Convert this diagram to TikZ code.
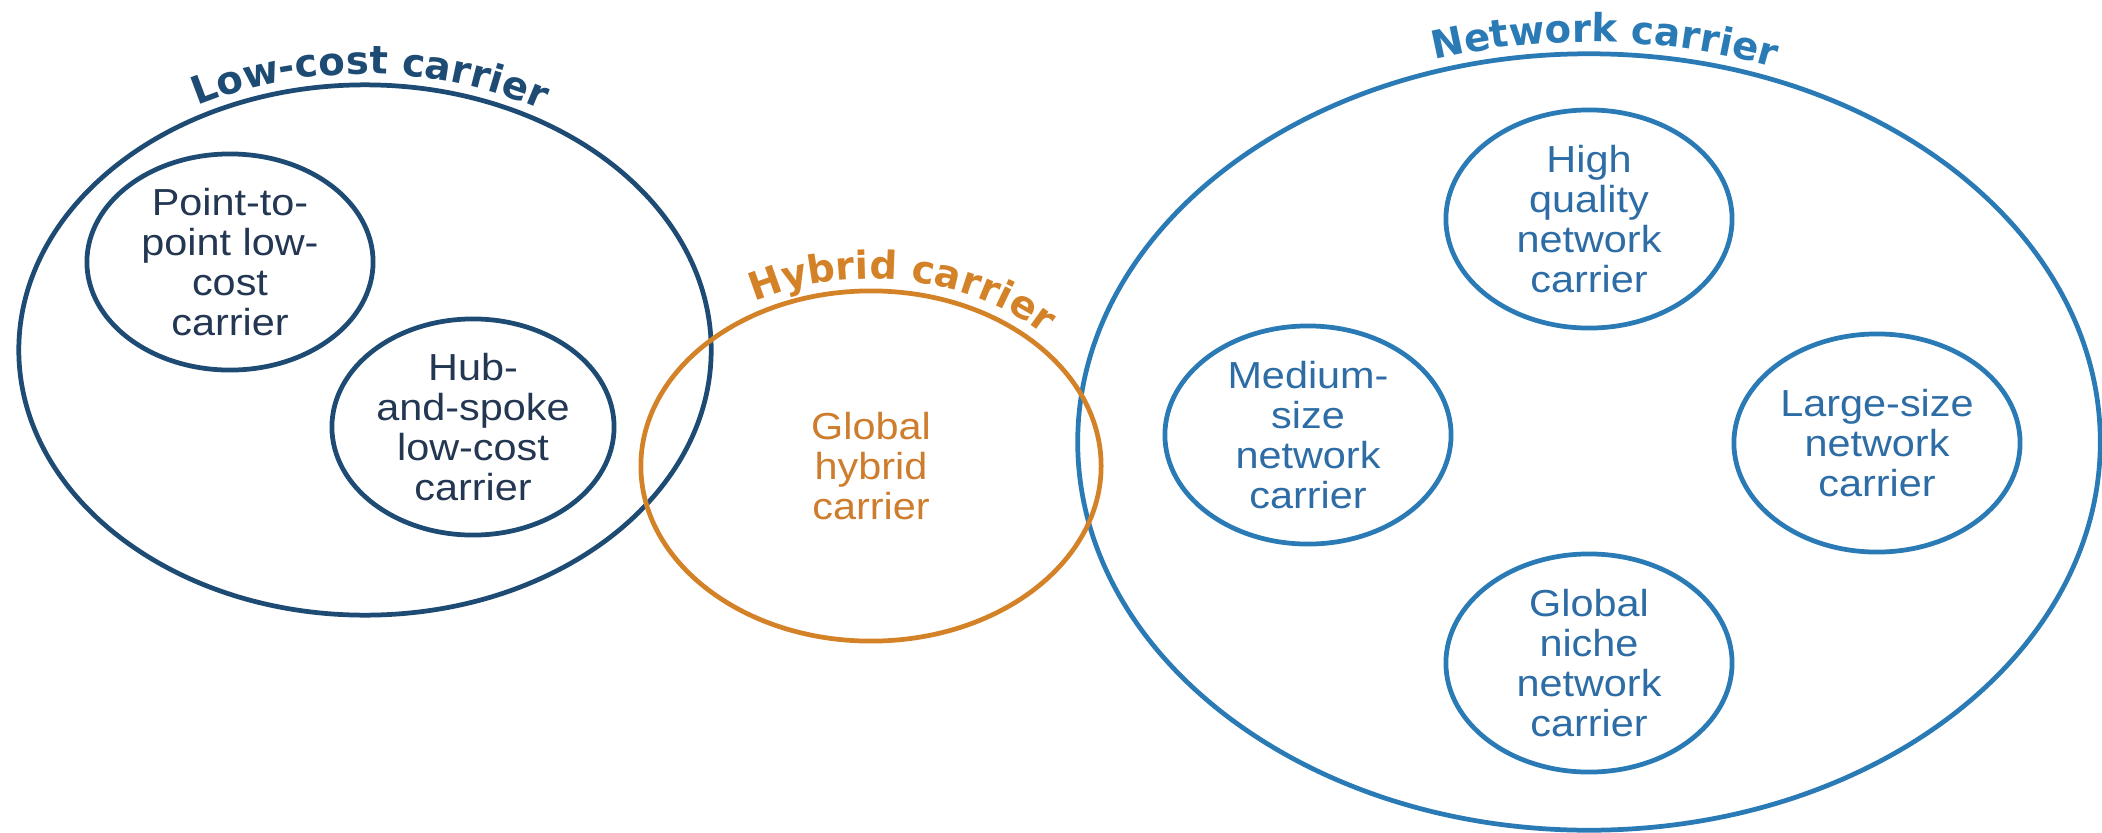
\documentclass[tikz,border=0pt]{standalone}
\usepackage{fontspec}
\setmainfont{Liberation Sans}
\newfontfamily\bodyfont{Liberation Sans}[FakeStretch=1.1]
\newfontfamily\titlefont{DejaVu Sans Bold}
\usetikzlibrary{shapes.geometric,decorations.text}
\definecolor{lcc}{RGB}{30,75,115}
\definecolor{lcctext}{RGB}{35,55,82}
\definecolor{net}{RGB}{42,122,182}
\definecolor{nettext}{RGB}{45,108,165}
\definecolor{hyb}{RGB}{212,130,40}
\definecolor{hybtext}{RGB}{205,125,45}
\tikzset{
  oval/.style={ellipse, draw, line width=1.35pt, inner sep=0pt, align=center,
    font={\bodyfont\fontsize{10.7pt}{11.4pt}\selectfont}},
  big/.style={ellipse, draw, line width=1.35pt, inner sep=0pt},
}
\begin{document}
\begin{tikzpicture}[x=0.01cm,y=0.01cm]
\useasboundingbox (0,0) rectangle (2102,832);
% low-cost carrier
\node[big, draw=lcc, minimum width=6.92cm, minimum height=5.30cm] (lowcost) at (365,482) {};
\node[oval, draw=lcc, text=lcctext, minimum width=2.86cm, minimum height=2.16cm] (p2p) at (230,570)
  {Point-to-\\point low-\\cost\\carrier};
\node[oval, draw=lcc, text=lcctext, minimum width=2.82cm, minimum height=2.16cm] (hub) at (473,405)
  {Hub-\\and-spoke\\low-cost\\carrier};
\path[decorate, decoration={text along path, text align=center,
  text={|\titlefont\fontsize{11pt}{13pt}\selectfont\color{lcc}|Low-cost carrier}}]
  (365,482) ++(150:357 and 276) arc[start angle=150, end angle=28, x radius=357, y radius=276];
% network carrier
\node[big, draw=net, minimum width=10.22cm, minimum height=7.76cm] (network) at (1589,390) {};
\node[oval, draw=net, text=nettext, minimum width=2.86cm, minimum height=2.18cm] (high) at (1589,613)
  {High\\quality\\network\\carrier};
\node[oval, draw=net, text=nettext, minimum width=2.86cm, minimum height=2.18cm] (medium) at (1308,397)
  {Medium-\\size\\network\\carrier};
\node[oval, draw=net, text=nettext, minimum width=2.86cm, minimum height=2.18cm] (large) at (1877,389)
  {Large-size\\network\\carrier};
\node[oval, draw=net, text=nettext, minimum width=2.86cm, minimum height=2.18cm] (niche) at (1589,169)
  {Global\\niche\\network\\carrier};
\path[decorate, decoration={text along path, text align=center,
  text={|\titlefont\fontsize{11pt}{13pt}\selectfont\color{net}|Network carrier}}]
  (1589,390) ++(140:523 and 400) arc[start angle=140, end angle=36, x radius=523, y radius=400];
% hybrid carrier
\node[oval, draw=hyb, text=hybtext, minimum width=4.60cm, minimum height=3.50cm] (hybrid) at (871,366)
  {Global\\hybrid\\carrier};
\path[decorate, decoration={text along path, text align=center,
  text={|\titlefont\fontsize{11pt}{13pt}\selectfont\color{hyb}|Hybrid carrier}}]
  (871,366) ++(165:243 and 187) arc[start angle=165, end angle=-5, x radius=243, y radius=187];
\end{tikzpicture}
\end{document}
